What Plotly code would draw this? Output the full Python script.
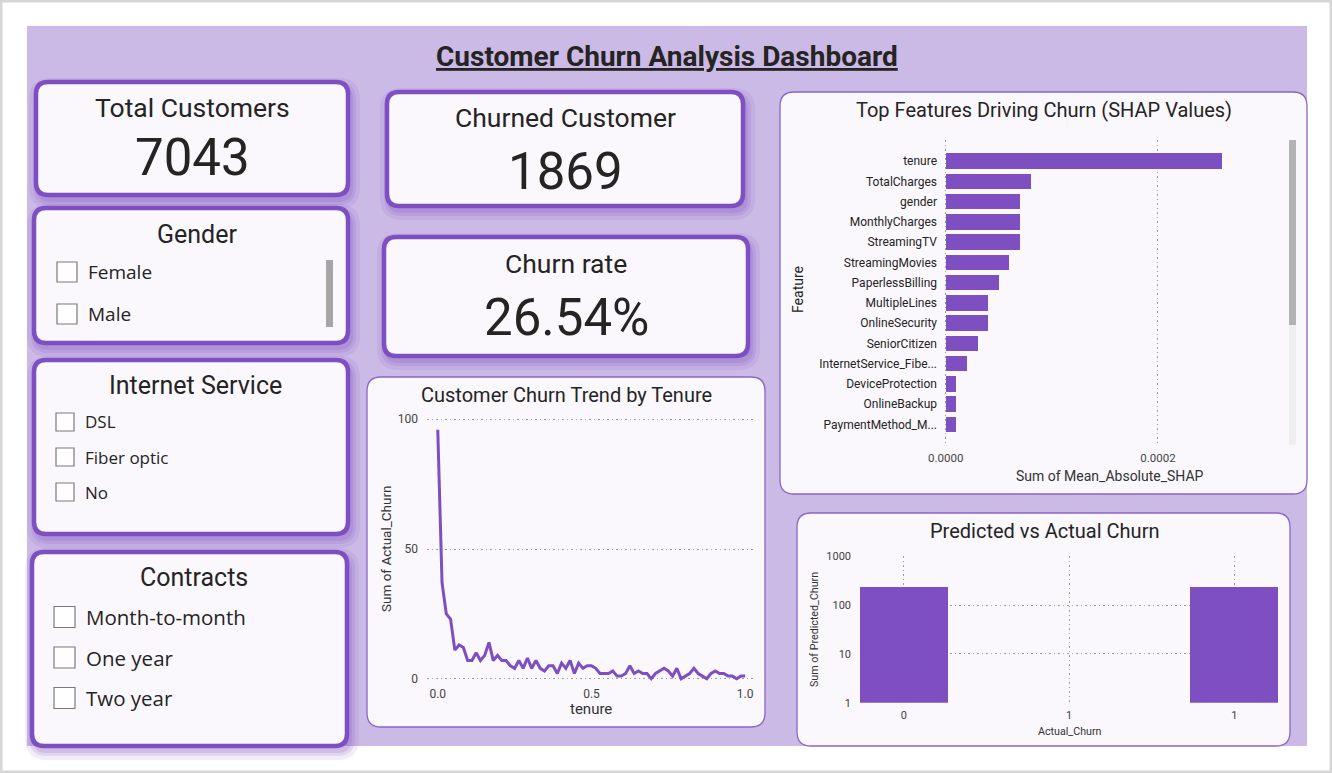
import plotly.graph_objects as go

# page size in pixels
W, H = 1332, 773

# ---- data ----
dashboard_title = "Customer Churn Analysis Dashboard"

kpi_labels = ["Total Customers", "Churned Customer", "Churn rate"]
kpi_values = ["7043", "1869", "26.54%"]

gender_options = ["Female", "Male"]
internet_options = ["DSL", "Fiber optic", "No"]
contract_options = ["Month-to-month", "One year", "Two year"]

# churn count per tenure month (tenure min-max scaled on the axis)
tenure_months = list(range(73))
churn_by_tenure = [96, 37, 25, 23, 11, 13, 12, 7, 7, 10, 7, 9, 14, 7, 9, 7, 7, 5, 4, 7,
                   4, 8, 4, 7, 4, 3, 5, 5, 2, 6, 4, 7, 2, 6, 4, 5, 5, 4, 2, 2,
                   2, 3, 1, 1, 2, 5, 2, 3, 2, 2, 0, 2, 3, 4, 3, 1, 4, 0, 1, 2,
                   4, 2, 1, 0, 2, 3, 2, 2, 1, 1, 0, 1, 1]

shap_features = ["tenure", "TotalCharges", "gender", "MonthlyCharges", "StreamingTV",
                 "StreamingMovies", "PaperlessBilling", "MultipleLines", "OnlineSecurity",
                 "SeniorCitizen", "InternetService_Fibe...", "DeviceProtection",
                 "OnlineBackup", "PaymentMethod_M..."]
shap_values = [0.00026, 0.00008, 0.00007, 0.00007, 0.00007, 0.00006, 0.00005,
               0.00004, 0.00004, 0.00003, 0.00002, 0.00001, 0.00001, 0.00001]

actual_churn_labels = ["0", "1", "1"]
predicted_churn_sum = [235, 235]

PURPLE = "#7E4FC1"
PANEL = "#CBB9E6"
CARD = "#FAF7FD"
TXT = "#252423"
FONT = "Roboto"
ITEM_FONT = "Open Sans"


def px(x):
    return x / W


def py(y):
    return 1 - y / H


def rbox(x0, y0, x1, y1, r, fill, line_color=None, line_width=0, opacity=1):
    rx, ry = r / W, r / H
    X0, X1, Y0, Y1 = px(x0), px(x1), py(y0), py(y1)
    path = (f"M {X0 + rx},{Y0} L {X1 - rx},{Y0} Q {X1},{Y0} {X1},{Y0 - ry} "
            f"L {X1},{Y1 + ry} Q {X1},{Y1} {X1 - rx},{Y1} L {X0 + rx},{Y1} "
            f"Q {X0},{Y1} {X0},{Y1 + ry} L {X0},{Y0 - ry} Q {X0},{Y0} {X0 + rx},{Y0} Z")
    return dict(type="path", path=path, xref="paper", yref="paper", fillcolor=fill,
                line=dict(color=line_color or "rgba(0,0,0,0)", width=line_width),
                layer="below", opacity=opacity)


shapes = []
annotations = []


def text(x, y, s, size, color=TXT, font=FONT, xanchor="center", angle=0):
    annotations.append(dict(x=px(x), y=py(y), xref="paper", yref="paper", text=s,
                            showarrow=False, xanchor=xanchor, yanchor="middle",
                            textangle=angle, font=dict(family=font, size=size, color=color)))


def card(x0, y0, x1, y1, r=12, thick=True):
    if thick:
        # soft purple glow under the card
        for g, op in [(10, 0.10), (6, 0.14), (3, 0.18)]:
            shapes.append(rbox(x0 - g + 3, y0 - g + 6, x1 + g + 2, y1 + g + 4, r + g,
                               "rgba(126,79,193,1)", opacity=op))
        shapes.append(rbox(x0, y0, x1, y1, r, CARD, PURPLE, 4.5))
    else:
        shapes.append(rbox(x0, y0, x1, y1, r, CARD, "#8B66C9", 1.3))


def checkbox(x, y, size):
    shapes.append(dict(type="rect", xref="paper", yref="paper",
                       x0=px(x), x1=px(x + size), y0=py(y + size / 2), y1=py(y - size / 2),
                       line=dict(color="#7A7A7A", width=1.2), fillcolor="white", layer="above"))


# window frame and panel
shapes.append(dict(type="rect", xref="paper", yref="paper", x0=0, x1=1, y0=0, y1=1,
                   line=dict(color="#D6D6D6", width=5), fillcolor="white", layer="below"))
shapes.append(dict(type="rect", xref="paper", yref="paper", x0=px(27), x1=px(1307),
                   y0=py(746), y1=py(26), line=dict(width=0), fillcolor=PANEL, layer="below"))

text(667, 57, f"<b><u>{dashboard_title}</u></b>", 28)

# KPI cards
kpi_boxes = [(36, 82, 348, 195), (387, 92, 743, 206), (384, 237, 748, 356)]
kpi_label_y = [107, 117, 263]
kpi_value_y = [157, 172, 318]
for (x0, y0, x1, y1), lab, val, ly, vy in zip(kpi_boxes, kpi_labels, kpi_values,
                                                 kpi_label_y, kpi_value_y):
    card(x0, y0, x1, y1)
    cx = (x0 + x1) / 2
    text(cx, ly, lab, 26.5)
    text(cx, vy, val, 51)

# slicers
card(34, 208, 348, 343)
text(197, 234, "Gender", 25)
for i, opt in enumerate(gender_options):
    yy = 272 + i * 42
    checkbox(57, yy, 20)
    text(86, yy, opt, 19, font=ITEM_FONT, xanchor="left")
shapes.append(dict(type="rect", xref="paper", yref="paper", x0=px(326), x1=px(333),
                   y0=py(327), y1=py(260), line=dict(width=0), fillcolor="#A6A6A6",
                   layer="above"))

card(34, 360, 348, 534)
text(196, 385, "Internet Service", 25)
for i, opt in enumerate(internet_options):
    yy = 422 + i * 35
    checkbox(56, yy, 18)
    text(83, yy, opt, 17, font=ITEM_FONT, xanchor="left")

card(32, 552, 347, 746)
text(194, 577, "Contracts", 25)
for i, opt in enumerate(contract_options):
    yy = 617 + i * 40.5
    checkbox(54, yy, 21)
    text(84, yy, opt, 20.5, font=ITEM_FONT, xanchor="left")

# chart cards
card(367, 377, 765, 727, r=14, thick=False)
card(780, 92, 1307, 494, r=14, thick=False)
card(797, 513, 1290, 746, r=14, thick=False)

text(566, 395, "Customer Churn Trend by Tenure", 20)
text(1044, 110, "Top Features Driving Churn (SHAP Values)", 20)
text(1044, 531, "Predicted vs Actual Churn", 20)

# axis titles
text(386, 549, "Sum of Actual_Churn", 13.5, color="#333", angle=-90)
text(591, 709, "tenure", 15, color="#333")
text(798, 290, "Feature", 14, color="#222", angle=-90)
text(1110, 476, "Sum of Mean_Absolute_SHAP", 14, color="#333")
text(814, 630, "Sum of Predicted_Churn", 10.7, color="#333", angle=-90)
text(1070, 731, "Actual_Churn", 10.7, color="#333")

# SHAP scrollbar
shapes.append(dict(type="rect", xref="paper", yref="paper", x0=px(1289), x1=px(1296),
                   y0=py(445), y1=py(140), line=dict(width=0), fillcolor="#EFEFEF",
                   layer="above"))
shapes.append(dict(type="rect", xref="paper", yref="paper", x0=px(1289), x1=px(1296),
                   y0=py(325), y1=py(140), line=dict(width=0), fillcolor="#B3B3B3",
                   layer="above"))

fig = go.Figure()

tenure_scaled = [m / max(tenure_months) for m in tenure_months]
fig.add_trace(go.Scatter(x=tenure_scaled, y=churn_by_tenure, mode="lines",
                         line=dict(color=PURPLE, width=3), xaxis="x", yaxis="y",
                         cliponaxis=False, showlegend=False))

fig.add_trace(go.Bar(x=shap_values, y=shap_features, orientation="h", width=0.77,
                     marker=dict(color=PURPLE, line=dict(width=0)), xaxis="x2", yaxis="y2",
                     showlegend=False))

fig.add_trace(go.Bar(x=[0, 2], y=predicted_churn_sum, width=0.53,
                     marker=dict(color=PURPLE, line=dict(width=0)), xaxis="x3", yaxis="y3",
                     showlegend=False))

tick_font = dict(family=FONT, size=12, color="#444")
grid = dict(showgrid=True, gridcolor="#9E9E9E", griddash="1.5px,3px", gridwidth=1)

fig.update_layout(
    width=W, height=H, margin=dict(l=0, r=0, t=0, b=0, autoexpand=False),
    paper_bgcolor="white", plot_bgcolor="rgba(0,0,0,0)",
    shapes=shapes, annotations=annotations, bargap=0,
    xaxis=dict(domain=[px(427), px(755)], range=[-0.035, 1.032], tickvals=[0, 0.5, 1],
               ticktext=["0.0", "0.5", "1.0"], showgrid=False, zeroline=False,
               tickfont=tick_font, ticklabelstandoff=2, anchor="y"),
    yaxis=dict(domain=[py(682.6), py(416.7)], range=[-1.5, 101], tickvals=[0, 50, 100],
               zeroline=False, tickfont=tick_font, ticklabelstandoff=8, anchor="x", **grid),
    xaxis2=dict(domain=[px(944), px(1280)], range=[-0.0000016, 0.000315],
                tickvals=[0, 0.0002], ticktext=["0.0000", "0.0002"], zeroline=False,
                tickfont=dict(family=FONT, size=11.5, color="#444"), ticklabelstandoff=6,
                anchor="y2", **grid),
    yaxis2=dict(domain=[py(443), py(140)], range=[13.92, -1.04], type="category",
                showgrid=False, tickfont=dict(family=FONT, size=12, color=TXT),
                ticklabelstandoff=6, anchor="x2"),
    xaxis3=dict(domain=[px(860), px(1278)], range=[-0.265, 2.265], tickvals=[0, 1, 2],
                ticktext=actual_churn_labels, zeroline=False,
                tickfont=dict(family=FONT, size=11, color="#444"), ticklabelstandoff=4,
                anchor="y3", **grid),
    yaxis3=dict(domain=[py(702.7), py(556.3)], type="log", range=[0, 3],
                tickvals=[1, 10, 100, 1000], ticktext=["1", "10", "100", "1000"],
                tickfont=dict(family=FONT, size=11, color="#444"), ticklabelstandoff=8,
                anchor="x3", **grid),
)

# drop the default body margin so the figure sits at the page origin
fig.write_html("out.html", config={"displayModeBar": False},
               post_script="document.body.style.margin='0';document.body.style.overflow='hidden';")
